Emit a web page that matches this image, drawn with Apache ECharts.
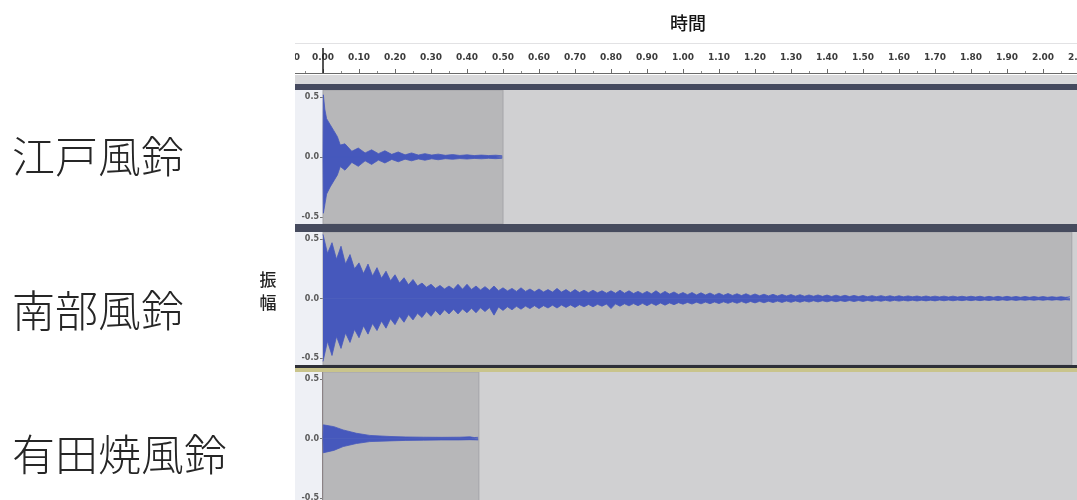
<!DOCTYPE html>
<html>
<head>
<meta charset="utf-8">
<script src="https://cdn.jsdelivr.net/npm/echarts@6/dist/echarts.min.js"></script>
<style>
  html, body { margin: 0; padding: 0; background: #fff; }
  #chart { width: 1077px; height: 500px; }
</style>
</head>
<body>
<div id="chart"></div>
<script>
// Track names and the length of each recording (seconds)
const trackNames = ['江戸風鈴', '南部風鈴', '有田焼風鈴'];
const trackDurations = [0.50, 2.08, 0.433];

// Amplitude tick labels on each track
const ampTicks = [-0.5, 0, 0.5];
// Time ruler
const timeMin = -0.1, timeMax = 2.2, timeStep = 0.1;

// 江戸風鈴 envelope: [time, amplitude]
const edoUpper = [
  [0, 0], [0.001, 0.52], [0.005, 0.40], [0.010, 0.32], [0.020, 0.27], [0.030, 0.22],
  [0.040, 0.17], [0.048, 0.10], [0.061, 0.11], [0.080, 0.048], [0.098, 0.075], [0.117, 0.034],
  [0.135, 0.060], [0.154, 0.028], [0.172, 0.052], [0.191, 0.022], [0.209, 0.042],
  [0.228, 0.018], [0.246, 0.034], [0.265, 0.016], [0.283, 0.028], [0.302, 0.016],
  [0.320, 0.024], [0.340, 0.014], [0.360, 0.020], [0.380, 0.013], [0.400, 0.018],
  [0.420, 0.012], [0.440, 0.016], [0.460, 0.012], [0.480, 0.015], [0.498, 0.010]
];
const edoLower = [
  [0, 0], [0.001, -0.47], [0.005, -0.40], [0.010, -0.31], [0.020, -0.25], [0.030, -0.20],
  [0.040, -0.15], [0.048, -0.08], [0.061, -0.11], [0.080, -0.045], [0.098, -0.078], [0.117, -0.032],
  [0.135, -0.062], [0.154, -0.026], [0.172, -0.05], [0.191, -0.02], [0.209, -0.04],
  [0.228, -0.018], [0.246, -0.032], [0.265, -0.016], [0.283, -0.027], [0.302, -0.015],
  [0.320, -0.023], [0.340, -0.014], [0.360, -0.019], [0.380, -0.013], [0.400, -0.017],
  [0.420, -0.012], [0.440, -0.015], [0.460, -0.011], [0.480, -0.014], [0.498, -0.010]
];

// 南部風鈴 envelope, sampled every nanbuStep seconds (alternating beat peak / trough)
const nanbuStep = 0.0125;
const nanbuUpper = [
  0.54, 0.38, 0.47, 0.33, 0.44, 0.29, 0.37, 0.25,
  0.30, 0.21, 0.29, 0.19, 0.26, 0.17, 0.23, 0.15,
  0.20, 0.13, 0.175, 0.115, 0.16, 0.105, 0.13, 0.095,
  0.12, 0.085, 0.11, 0.08, 0.105, 0.078, 0.12, 0.078,
  0.12, 0.076, 0.105, 0.072, 0.10, 0.07, 0.105, 0.066,
  0.09, 0.064, 0.085, 0.06, 0.09, 0.06, 0.08, 0.056,
  0.08, 0.055, 0.075, 0.054, 0.085, 0.054, 0.075, 0.05,
  0.075, 0.05, 0.07, 0.048, 0.07, 0.048, 0.065, 0.045,
  0.065, 0.044, 0.07, 0.044, 0.065, 0.042, 0.06, 0.04,
  0.06, 0.039, 0.065, 0.038, 0.06, 0.037, 0.055, 0.034,
  0.05, 0.032, 0.05, 0.03, 0.048, 0.03, 0.046, 0.028,
  0.045, 0.027, 0.042, 0.026, 0.04, 0.025, 0.04, 0.024,
  0.038, 0.023, 0.036, 0.022, 0.035, 0.021, 0.034, 0.021,
  0.033, 0.02, 0.032, 0.019, 0.03, 0.019, 0.03, 0.018,
  0.029, 0.017, 0.028, 0.017, 0.027, 0.016, 0.026, 0.016,
  0.025, 0.015, 0.024, 0.015, 0.024, 0.015, 0.023, 0.014,
  0.023, 0.014, 0.022, 0.014, 0.021, 0.013, 0.021, 0.013,
  0.02, 0.013, 0.02, 0.012, 0.02, 0.012, 0.019, 0.012,
  0.019, 0.012, 0.019, 0.011, 0.018, 0.011, 0.018, 0.011,
  0.018, 0.011, 0.017, 0.01, 0.017, 0.01, 0.016, 0.01,
  0.016, 0.01, 0.015, 0.01, 0.015, 0.01, 0.014
];
const nanbuLower = [
  -0.53, -0.36, -0.48, -0.32, -0.42, -0.29, -0.37, -0.26,
  -0.33, -0.23, -0.30, -0.21, -0.27, -0.19, -0.25, -0.17,
  -0.22, -0.15, -0.20, -0.135, -0.18, -0.125, -0.16, -0.11,
  -0.15, -0.10, -0.14, -0.095, -0.13, -0.09, -0.13, -0.088,
  -0.12, -0.082, -0.12, -0.078, -0.11, -0.076, -0.14, -0.072,
  -0.10, -0.07, -0.095, -0.066, -0.09, -0.064, -0.085, -0.06,
  -0.085, -0.06, -0.08, -0.056, -0.08, -0.055, -0.075, -0.054,
  -0.075, -0.052, -0.07, -0.05, -0.07, -0.049, -0.065, -0.046,
  -0.085, -0.045, -0.065, -0.044, -0.062, -0.043, -0.06, -0.041,
  -0.06, -0.04, -0.058, -0.038, -0.056, -0.037, -0.052, -0.035,
  -0.048, -0.033, -0.047, -0.031, -0.045, -0.03, -0.044, -0.029,
  -0.043, -0.028, -0.041, -0.027, -0.04, -0.026, -0.039, -0.025,
  -0.037, -0.024, -0.036, -0.023, -0.034, -0.022, -0.033, -0.021,
  -0.032, -0.02, -0.031, -0.02, -0.03, -0.019, -0.029, -0.019,
  -0.028, -0.018, -0.027, -0.018, -0.026, -0.017, -0.026, -0.017,
  -0.025, -0.016, -0.024, -0.016, -0.023, -0.015, -0.023, -0.015,
  -0.022, -0.015, -0.021, -0.014, -0.021, -0.014, -0.02, -0.014,
  -0.02, -0.013, -0.019, -0.013, -0.019, -0.013, -0.018, -0.012,
  -0.018, -0.012, -0.018, -0.012, -0.017, -0.011, -0.017, -0.011,
  -0.016, -0.011, -0.016, -0.011, -0.015, -0.01, -0.015, -0.01,
  -0.015, -0.01, -0.014, -0.01, -0.014, -0.01, -0.013
];

// 有田焼風鈴 envelope: [time, amplitude]
const aritaUpper = [
  [0, 0], [0.001, 0.115], [0.030, 0.10], [0.056, 0.072], [0.093, 0.044], [0.130, 0.026],
  [0.186, 0.017], [0.230, 0.013], [0.279, 0.011], [0.330, 0.010], [0.380, 0.011],
  [0.408, 0.014], [0.420, 0.008], [0.431, 0.010]
];
const aritaLower = [
  [0, 0], [0.001, -0.12], [0.030, -0.10], [0.056, -0.068], [0.093, -0.042], [0.130, -0.026],
  [0.186, -0.020], [0.230, -0.016], [0.279, -0.014], [0.330, -0.012], [0.380, -0.012],
  [0.408, -0.010], [0.431, -0.012]
];

const toPairs = (vals, step) => vals.map((v, i) => [i * step, v]);
const envelopes = [
  [edoUpper, edoLower],
  [toPairs(nanbuUpper, nanbuStep), toPairs(nanbuLower, nanbuStep)],
  [aritaUpper, aritaLower]
];

const WAVE = '#4658bc';
const PLOT_BG = '#d0d0d2';
const CLIP_BG = '#b7b7b9';
const AXIS_FONT = '"DejaVu Sans", sans-serif';
const JP_FONT = '"Noto Sans CJK JP", sans-serif';

// Track panels
const panelTops = [90, 232, 372];
const panelHeights = [134, 133, 133];
const panelLeft = 323;
const panelTimeMax = (1077 - panelLeft) / 360;

const grids = [{ left: 287, width: 828, top: 40, height: 33, outerBoundsMode: 'none', containLabel: false }];
const xAxes = [{
  type: 'value', gridIndex: 0, position: 'bottom',
  min: timeMin, max: timeMax, interval: timeStep,
  axisLine: { show: true, onZero: false, lineStyle: { color: '#6a6a6a', width: 1 } },
  axisTick: { show: true, inside: true, length: 4, lineStyle: { color: '#6a6a6a' } },
  minorTick: { show: true, splitNumber: 2, length: 2, lineStyle: { color: '#8a8a8a' } },
  axisLabel: {
    inside: true, margin: 11, fontSize: 9, fontWeight: 'bold', color: '#3c3c3c',
    fontFamily: AXIS_FONT, formatter: v => v.toFixed(2)
  },
  splitLine: { show: false }
}];
const yAxes = [{ type: 'value', gridIndex: 0, min: 0, max: 1, show: false }];
// play-head cursor at t = 0 on the ruler
const series = [{
  type: 'line', xAxisIndex: 0, yAxisIndex: 0, data: [[0, 0]],
  symbol: 'none', lineStyle: { opacity: 0 }, silent: true,
  markLine: {
    silent: true, symbol: 'none', label: { show: false },
    lineStyle: { color: '#1e1e1e', width: 1.5, type: 'solid' },
    data: [[{ coord: [0, 0] }, { coord: [0, 0.76] }]]
  }
}];

trackNames.forEach((name, i) => {
  const g = i + 1;
  grids.push({
    left: panelLeft, right: 0, top: panelTops[i], height: panelHeights[i],
    show: true, backgroundColor: PLOT_BG, borderWidth: 0,
    outerBoundsMode: 'none', containLabel: false
  });
  xAxes.push({ type: 'value', gridIndex: g, min: 0, max: panelTimeMax, show: false });
  yAxes.push({
    type: 'value', gridIndex: g, min: -0.56, max: 0.56,
    axisLine: { show: i === 2, onZero: false, lineStyle: { color: '#4a3030', width: 1.5 } },
    axisTick: { show: true, length: 3, customValues: ampTicks, lineStyle: { color: '#777' } },
    axisLabel: {
      show: true, customValues: ampTicks, margin: 4, fontSize: 8, fontWeight: 'bold',
      color: '#5a5a5a', fontFamily: AXIS_FONT, formatter: v => v.toFixed(1)
    },
    splitLine: { show: false }
  });
  const [up, low] = envelopes[i];
  const lastT = up[up.length - 1][0];
  const base = {
    type: 'line', xAxisIndex: g, yAxisIndex: g, symbol: 'none', silent: true,
    lineStyle: { color: WAVE, width: 0.8 },
    areaStyle: { color: WAVE, opacity: 1, origin: 0 },
    z: 3
  };
  series.push(Object.assign({}, base, {
    name: name, data: up,
    markArea: {
      silent: true,
      itemStyle: { color: CLIP_BG, borderColor: '#a4a4a8', borderWidth: 1 },
      data: [[{ xAxis: 0 }, { xAxis: trackDurations[i] }]]
    }
  }));
  series.push(Object.assign({}, base, {
    name: name + '-', data: low,
    // closes the seam where the positive and negative halves meet
    markLine: {
      silent: true, symbol: 'none', label: { show: false },
      lineStyle: { color: WAVE, width: 1.5, type: 'solid' },
      data: [[{ coord: [0, 0] }, { coord: [lastT, 0] }]]
    }
  }));
});

const band = (y, h, fill, z) => ({
  type: 'rect', shape: { x: 295, y: y, width: 782, height: h }, style: { fill: fill }, z: z || 10, silent: true
});

const graphic = [
  // left header strip of the track panels
  { type: 'rect', shape: { x: 295, y: 90, width: 28, height: 410 }, style: { fill: '#eef0f5' }, z: -100, silent: true },
  // mask to the left of the ruler
  { type: 'rect', shape: { x: 0, y: 36, width: 295, height: 56 }, style: { fill: '#ffffff' }, z: 100, silent: true },
  band(43, 1, '#e2e2e4'),
  band(75, 9, '#d9d9db'),
  band(84, 6, '#454a5f'),
  band(224, 8, '#464b5e'),
  band(365, 3, '#2e3038'),
  band(368, 4, '#c9c48c'),
  { type: 'text', style: { text: '時間', x: 688, y: 23, align: 'center', verticalAlign: 'middle',
      font: '500 18px ' + JP_FONT, fill: '#141414' } },
  { type: 'text', style: { text: '振\n幅', x: 268, y: 291, align: 'center', verticalAlign: 'middle',
      font: '500 17px ' + JP_FONT, lineHeight: 23, fill: '#222' } },
  { type: 'text', style: { text: trackNames[0], x: 12, y: 157, align: 'left', verticalAlign: 'middle',
      font: '300 43px ' + JP_FONT, fill: '#262626' } },
  { type: 'text', style: { text: trackNames[1], x: 12, y: 311, align: 'left', verticalAlign: 'middle',
      font: '300 43px ' + JP_FONT, fill: '#262626' } },
  { type: 'text', style: { text: trackNames[2], x: 12, y: 455, align: 'left', verticalAlign: 'middle',
      font: '300 43px ' + JP_FONT, fill: '#262626' } }
];

const chart = echarts.init(document.getElementById('chart'), null, { renderer: 'canvas' });
chart.setOption({
  animation: false,
  backgroundColor: '#ffffff',
  grid: grids,
  xAxis: xAxes,
  yAxis: yAxes,
  series: series,
  graphic: graphic
});
</script>
</body>
</html>
